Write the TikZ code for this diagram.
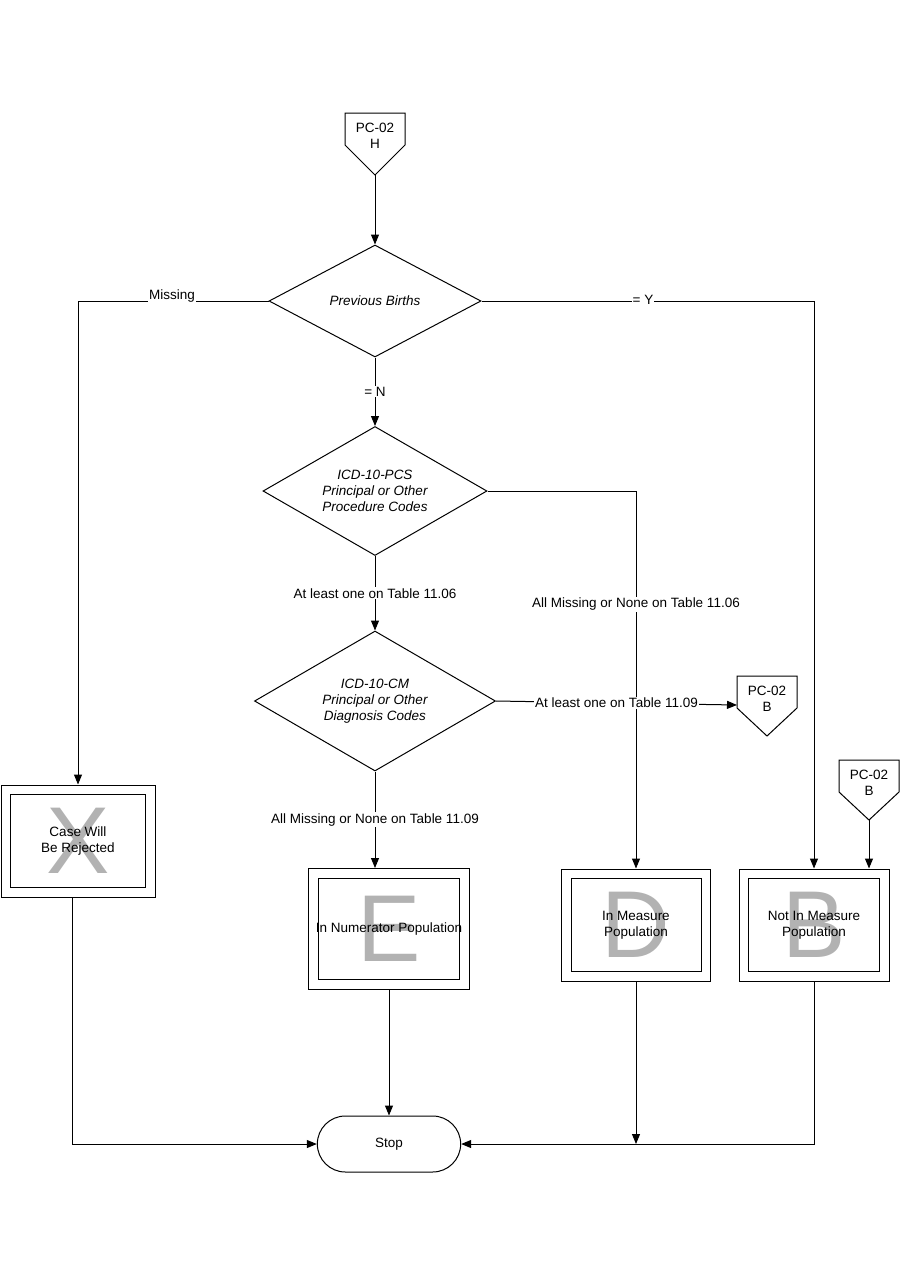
\documentclass[tikz,border=0pt]{standalone}
\usepackage{fontspec}
\setmainfont{Liberation Sans}
\usetikzlibrary{arrows.meta,shapes.geometric,shapes.misc,calc}
\definecolor{LetterClr}{rgb}{0.7,0.7,0.7}

\tikzset{
  flow/.style={line width=1pt,-{Triangle[length=10pt,width=8pt]}},
  plain/.style={line width=1pt},
  decision/.style={diamond,draw,line width=1pt,inner sep=0pt,align=center},
  outerbox/.style={draw,line width=1pt,rectangle,inner sep=0pt},
  innerbox/.style={draw,line width=1pt,rectangle,inner sep=0pt,align=center},
  bigletter/.style={text=LetterClr,font=\fontsize{95}{95}\selectfont},
  lbl/.style={fill=white,inner sep=1pt},
}

\begin{document}
\begin{tikzpicture}[x=1pt,y=-1pt,font=\fontsize{13.5}{16}\selectfont]
\useasboundingbox (0,0) rectangle (900,1286);

% off-page connector on top
\draw[plain] (345,113) -- (405,113) -- (405,145) -- (375,175) -- (345,145) -- cycle;
\node[align=center] at (375,136) {PC-02\\H};
\coordinate (h) at (375,175);

% decisions
\node[decision,aspect=1.9,minimum width=212,minimum height=112] (births) at (375,301) {\itshape Previous Births};
\node[decision,aspect=1.74,minimum width=224,minimum height=129] (pcs) at (375,491)
  {\itshape ICD-10-PCS\\\itshape Principal or Other\\\itshape Procedure Codes};
\node[decision,aspect=1.72,minimum width=241,minimum height=140] (cm) at (375,701)
  {\itshape ICD-10-CM\\\itshape Principal or Other\\\itshape Diagnosis Codes};

% connector PC-02 B (right of cm)
\draw[plain] (737,676) -- (797,676) -- (797,708) -- (767,736) -- (737,708) -- cycle;
\node[align=center] at (767,699) {PC-02\\B};
\coordinate (pbin) at (737,705);

% connector PC-02 B (above box B)
\draw[plain] (839,760) -- (899,760) -- (899,792) -- (869,820) -- (839,792) -- cycle;
\node[align=center] at (869,783) {PC-02\\B};
\coordinate (pbout) at (869,820);

% outcome boxes
\node[outerbox,minimum width=154,minimum height=112] (rej) at (78,841) {};
\node[innerbox,minimum width=135,minimum height=93] (rejin) at (rej) {};
\node[bigletter] at (rej) {X};
\node[align=center] at (rej) {Case Will\\Be Rejected};

\node[outerbox,minimum width=161,minimum height=121] (num) at (389,929) {};
\node[innerbox,minimum width=141,minimum height=101] (numin) at (num) {};
\node[bigletter] at (num) {E};
\node at (num) {In Numerator Population};

\node[outerbox,minimum width=149,minimum height=112] (den) at (636,925) {};
\node[innerbox,minimum width=130,minimum height=93] (denin) at (den) {};
\node[bigletter] at (den) {D};
\node[align=center] at (den) {In Measure\\Population};

\node[outerbox,minimum width=150,minimum height=112] (notden) at (814,925) {};
\node[innerbox,minimum width=131,minimum height=93] (notdenin) at (notden) {};
\node[bigletter] at (notden) {B};
\node[align=center] at (notden) {Not In Measure\\Population};

\node[draw,line width=1pt,rounded rectangle,minimum width=150,minimum height=56] (stop) at (389,1144) {Stop};

% connectors
\draw[flow] (h) -- (births.north);
\draw[flow] (births.west) -| (rej.north);
\node[lbl] at (172,296) {Missing};
\draw[flow] (births.east) -| (notden.north);
\node[lbl] at (643,300) {= Y};
\draw[flow] (births.south) -- (pcs.north) node[lbl,midway] {= N};
\draw[flow] (pcs.east) -| (den.north) node[lbl,pos=0.65] {All Missing or None on Table 11.06};
\draw[flow] (pcs.south) -- (cm.north) node[lbl,midway] {At least one on Table 11.06};
\draw[flow] (cm.east) -- (pbin) node[lbl,midway] {At least one on Table 11.09};
\draw[flow] (cm.south) -- (cm.south |- num.north) node[lbl,midway] {All Missing or None on Table 11.09};
\draw[flow] (pbout) -- (notden.north -| pbout);
\draw[flow] (num.south) -- (stop.north);
\draw[flow] (rej.south -| 72,0) |- (stop.west);
\draw[flow] (notden.south) |- (stop.east);
\draw[flow] (den.south) -- (den.south |- stop.east);
\end{tikzpicture}
\end{document}
